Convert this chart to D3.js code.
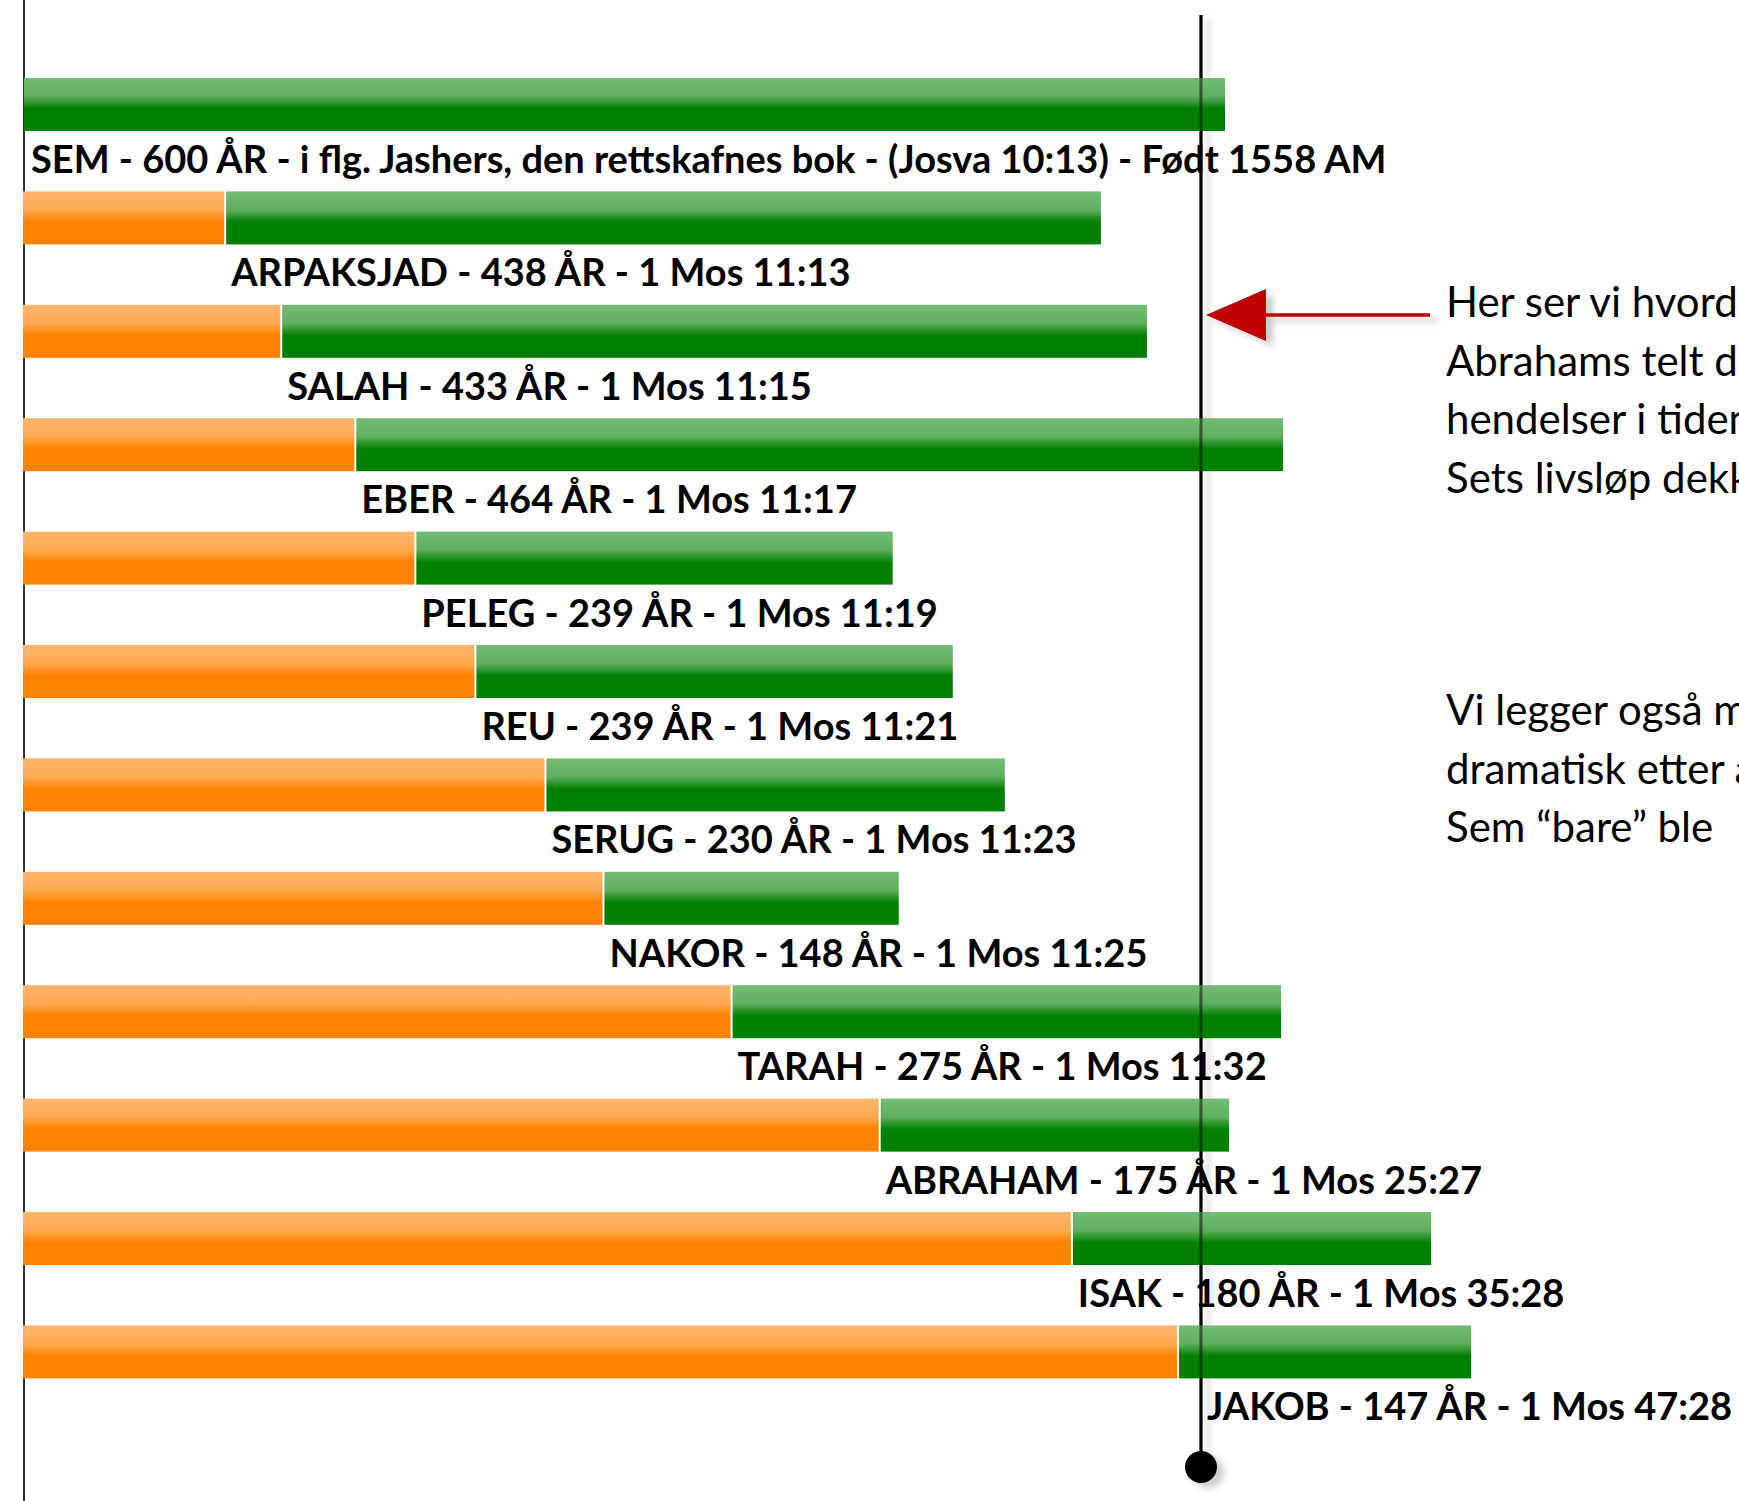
<!DOCTYPE html>
<html>
<head>
<meta charset="utf-8">
<script src="https://cdn.jsdelivr.net/npm/d3@7"></script>
<style>
  body { margin: 0; background: #fff; }
  svg { display: block; }
  .label { font-family: Lato, 'Open Sans', sans-serif; font-weight: 700; font-size: 38px; fill: #000; }
  .note { font-family: Lato, 'Open Sans', sans-serif; font-size: 42px; fill: #000; }
</style>
</head>
<body>
<div id="chart"></div>
<script>

// patriarchs from Sem to Jakob (years in AM)
var names = ['SEM', 'ARPAKSJAD', 'SALAH', 'EBER', 'PELEG', 'REU', 'SERUG', 'NAKOR', 'TARAH', 'ABRAHAM', 'ISAK', 'JAKOB'];
var labels = [
  'SEM - 600 ÅR - i flg. Jashers, den rettskafnes bok - (Josva 10:13) - Født 1558 AM',
  'ARPAKSJAD - 438 ÅR - 1 Mos 11:13',
  'SALAH - 433 ÅR - 1 Mos 11:15',
  'EBER - 464 ÅR - 1 Mos 11:17',
  'PELEG - 239 ÅR - 1 Mos 11:19',
  'REU - 239 ÅR - 1 Mos 11:21',
  'SERUG - 230 ÅR - 1 Mos 11:23',
  'NAKOR - 148 ÅR - 1 Mos 11:25',
  'TARAH - 275 ÅR - 1 Mos 11:32',
  'ABRAHAM - 175 ÅR - 1 Mos 25:27',
  'ISAK - 180 ÅR - 1 Mos 35:28',
  'JAKOB - 147 ÅR - 1 Mos 47:28'
];
var born = [1558, 1658, 1686, 1723, 1753, 1783, 1818, 1847, 1911, 1985, 2081, 2134];
var lived = [600, 438, 433, 464, 239, 239, 230, 148, 275, 175, 180, 147];

// the year marked by the vertical line
var markerYear = 2146;

var noteTop = ['Her ser vi hvordan', 'Abrahams telt da', 'hendelser i tiden', 'Sets livsløp dekker'];
var noteBottom = ['Vi legger også merke', 'dramatisk etter at', 'Sem “bare” ble'];

var data = names.map(function(n, i) {
  return { name: n, label: labels[i], born: born[i], lived: lived[i] };
});

var width = 1739;
var height = 1501;

var svg = d3.select('#chart')
  .append('svg')
  .attr('width', width)
  .attr('height', height);

var defs = svg.append('defs');

// glassy gradients for the bars
function gradient(id, light, mid, dark) {
  var g = defs.append('linearGradient')
    .attr('id', id)
    .attr('x1', 0).attr('y1', 0).attr('x2', 0).attr('y2', 1);
  g.append('stop').attr('offset', '0%').attr('stop-color', light);
  g.append('stop').attr('offset', '35%').attr('stop-color', mid);
  g.append('stop').attr('offset', '58%').attr('stop-color', dark);
  g.append('stop').attr('offset', '100%').attr('stop-color', dark);
}
gradient('green', '#74bc74', '#5fae5f', '#008000');
gradient('orange', '#ffb56e', '#ffa94f', '#ff8200');

// soft shadow, region in page units so thin lines keep it
var shadow = defs.append('filter')
  .attr('id', 'shadow')
  .attr('filterUnits', 'userSpaceOnUse')
  .attr('x', 0).attr('y', 0).attr('width', width).attr('height', height);
shadow.append('feDropShadow')
  .attr('dx', 7).attr('dy', 5)
  .attr('stdDeviation', 3)
  .attr('flood-color', '#000')
  .attr('flood-opacity', 0.2);

// scales
var x = d3.scaleLinear().domain([1558, 2158]).range([24, 1225]);
var y = d3.scaleBand()
  .domain(names)
  .range([78, 1378.4])
  .paddingInner(0.5326)
  .paddingOuter(0);

var x0 = x.domain()[0];

// left axis line
svg.append('line')
  .attr('x1', x(x0)).attr('x2', x(x0))
  .attr('y1', 0).attr('y2', height)
  .attr('stroke', '#333')
  .attr('stroke-width', 2);

// vertical marker line (under the bars)
var mx = x(markerYear);
svg.append('line')
  .attr('x1', mx).attr('x2', mx)
  .attr('y1', 15).attr('y2', 1467)
  .attr('stroke', '#000')
  .attr('stroke-width', 3)
  .attr('filter', 'url(#shadow)');

var rows = svg.selectAll('.row')
  .data(data)
  .enter().append('g')
    .attr('class', 'row');

// years before birth (orange)
rows.filter(function(d) { return d.born > x0; })
  .append('rect')
    .attr('x', x(x0) - 1)
    .attr('y', function(d) { return y(d.name); })
    .attr('width', function(d) { return x(d.born) - x(x0) + 1; })
    .attr('height', y.bandwidth())
    .attr('fill', 'url(#orange)');

// lifetime (green), small white gap after the orange part
rows.append('rect')
  .attr('x', function(d) { return x(d.born) + (d.born > x0 ? 2 : 0); })
  .attr('y', function(d) { return y(d.name); })
  .attr('width', function(d) { return x(d.born + d.lived) - x(d.born) - (d.born > x0 ? 2 : 0); })
  .attr('height', y.bandwidth())
  .attr('fill', 'url(#green)');

// marker line seen through the bars
svg.append('line')
  .attr('x1', mx).attr('x2', mx)
  .attr('y1', 15).attr('y2', 1467)
  .attr('stroke', '#000')
  .attr('stroke-opacity', 0.5)
  .attr('stroke-width', 3);

svg.append('circle')
  .attr('cx', mx)
  .attr('cy', 1467)
  .attr('r', 16)
  .attr('fill', '#000')
  .attr('filter', 'url(#shadow)');

// labels under each bar, pushed past the marker line if they would start on it
rows.append('text')
  .attr('class', 'label')
  .attr('x', function(d) {
    var lx = x(d.born) + 7;
    if (lx > mx - 30 && lx < mx + 5) lx = mx + 6;
    return lx;
  })
  .attr('y', function(d) { return y(d.name) + y.bandwidth() + 42; })
  .text(function(d) { return d.label; });

// red arrow pointing at the marker line
var arrow = svg.append('g').attr('filter', 'url(#shadow)');
arrow.append('line')
  .attr('x1', mx + 60).attr('x2', 1430)
  .attr('y1', 315).attr('y2', 315)
  .attr('stroke', '#c00000')
  .attr('stroke-width', 3.5);
arrow.append('path')
  .attr('d', 'M' + (mx + 5) + ',315 L' + (mx + 65) + ',289 L' + (mx + 65) + ',341 Z')
  .attr('fill', '#c00000');

// notes on the right (cut by the right edge as in the original slide)
svg.append('g').selectAll('text')
  .data(noteTop)
  .enter().append('text')
    .attr('class', 'note')
    .attr('x', 1446)
    .attr('y', function(d, i) { return 317 + i * 58.5; })
    .text(function(d) { return d; });

svg.append('g').selectAll('text')
  .data(noteBottom)
  .enter().append('text')
    .attr('class', 'note')
    .attr('x', 1446)
    .attr('y', function(d, i) { return 725 + i * 58.5; })
    .text(function(d) { return d; });

</script>
</body>
</html>
